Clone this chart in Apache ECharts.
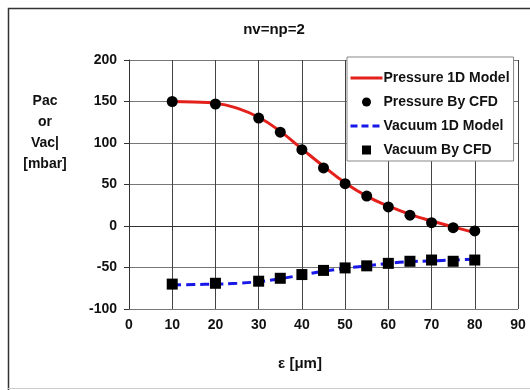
<!DOCTYPE html>
<html>
<head>
<meta charset="utf-8">
<script src="https://cdn.jsdelivr.net/npm/echarts@6/dist/echarts.min.js"></script>
<style>html,body{margin:0;padding:0;background:#fff}#c{width:530px;height:390px}</style>
</head>
<body>
<div id="c"></div>
<script>
var xTicks = [0, 10, 20, 30, 40, 50, 60, 70, 80, 90];
var yTicks = [-100, -50, 0, 50, 100, 150, 200];
var epsilon = [10, 15, 20, 25, 30, 35, 40, 45, 50, 55, 60, 65, 70, 75, 80];
var pressureModel = [150, 149.5, 148, 142, 131, 114, 93, 72, 52, 36, 24, 14, 6, -1, -8];
var vacuumModel = [-71, -70.5, -70, -69, -67, -63.5, -59, -54.5, -51, -48, -45, -43, -42, -41, -40];
var cfdX = [10, 20, 30, 35, 40, 45, 50, 55, 60, 65, 70, 75, 80];
var pressureCFD = [150, 147, 130, 113, 92, 70, 51, 36, 23, 13, 4, -2, -6];
var vacuumCFD = [-70, -69, -66.5, -63, -58.5, -53.5, -50.5, -48, -45, -42.5, -41, -42.5, -41];

function pairs(xs, ys) { return xs.map(function (x, i) { return [x, ys[i]]; }); }

var font = 'Liberation Sans, Arial, sans-serif';
var chart = echarts.init(document.getElementById('c'));
chart.setOption({
  animation: false,
  backgroundColor: '#fff',
  textStyle: { fontFamily: font },
  title: {
    text: 'nv=np=2', left: 269, top: 17, textAlign: 'center',
    textStyle: { fontSize: 15, fontWeight: 'bold', color: '#111', fontFamily: font }
  },
  grid: { left: 129, right: 12, top: 60, bottom: 81 },
  xAxis: {
    type: 'value', min: 0, max: 90, interval: 10,
    axisLine: { show: true, lineStyle: { color: '#333', width: 1 } },
    axisTick: { show: true, length: 5, lineStyle: { color: '#333' } },
    axisLabel: { fontSize: 14, fontWeight: 'bold', color: '#111', margin: 9, fontFamily: font,
      formatter: function (v) { return xTicks.indexOf(v) >= 0 ? String(v) : ''; } },
    splitLine: { show: true, lineStyle: { color: '#444', width: 1 } }
  },
  yAxis: {
    type: 'value', min: -100, max: 200, interval: 50,
    axisLine: { show: true, lineStyle: { color: '#333', width: 1 } },
    axisTick: { show: true, length: 5, lineStyle: { color: '#333' } },
    axisLabel: { fontSize: 14, fontWeight: 'bold', color: '#111', margin: 12, fontFamily: font,
      formatter: function (v) { return yTicks.indexOf(v) >= 0 ? String(v) : ''; } },
    splitLine: { show: true, lineStyle: { color: '#777', width: 1 } }
  },
  legend: {
    orient: 'vertical', left: 347, top: 57,
    padding: [14, 4, 4, 2],
    itemWidth: 32, itemHeight: 9, itemGap: 10,
    backgroundColor: '#fff', borderColor: '#888', borderWidth: 1, borderRadius: 0,
    textStyle: { fontSize: 14, fontWeight: 'bold', color: '#111', fontFamily: font, padding: [0, 0, 0, -4] },
    data: [
      { name: 'Pressure 1D Model', itemStyle: { opacity: 0 }, lineStyle: { width: 3, color: '#e3201b' } },
      { name: 'Pressure By CFD', icon: 'circle' },
      { name: 'Vacuum 1D Model', itemStyle: { opacity: 0 }, lineStyle: { width: 3, color: '#1717e8', type: [7, 4] } },
      { name: 'Vacuum By CFD', icon: 'path://M0,0L10,0L10,10L0,10Z' }
    ]
  },
  graphic: [
    { type: 'polyline', silent: true, shape: { points: [[8.5, 390], [8.5, 8.5], [530, 8.5]] },
      style: { stroke: '#333', lineWidth: 1.5, fill: null } },
    { type: 'line', silent: true, shape: { x1: 8, y1: 388.5, x2: 530, y2: 388.5 },
      style: { stroke: '#ccc', lineWidth: 1 } },
    { type: 'text', silent: true, x: 45, y: 91,
      style: { text: 'Pac\nor\nVac|\n[mbar]', textAlign: 'center', lineHeight: 21,
        font: 'bold 14px ' + font, fill: '#111' } },
    { type: 'text', silent: true, x: 300, y: 356,
      style: { text: 'ε [μm]', textAlign: 'center',
        font: 'bold 15px ' + font, fill: '#111' } }
  ],
  series: [
    { name: 'Pressure 1D Model', type: 'line', smooth: true, showSymbol: false, symbol: 'none',
      data: pairs(epsilon, pressureModel), z: 2,
      lineStyle: { color: '#e3201b', width: 3 }, itemStyle: { color: '#e3201b' } },
    { name: 'Pressure By CFD', type: 'scatter', symbol: 'circle', symbolSize: 11,
      data: pairs(cfdX, pressureCFD), z: 3, itemStyle: { color: '#000', opacity: 1 } },
    { name: 'Vacuum 1D Model', type: 'line', smooth: true, showSymbol: false, symbol: 'none',
      data: pairs(epsilon, vacuumModel), z: 2,
      lineStyle: { color: '#1717e8', width: 3, type: [9, 5] }, itemStyle: { color: '#1717e8' } },
    { name: 'Vacuum By CFD', type: 'scatter', symbol: 'rect', symbolSize: 11,
      data: pairs(cfdX, vacuumCFD), z: 3, itemStyle: { color: '#000', opacity: 1 } }
  ]
});
</script>
</body>
</html>
